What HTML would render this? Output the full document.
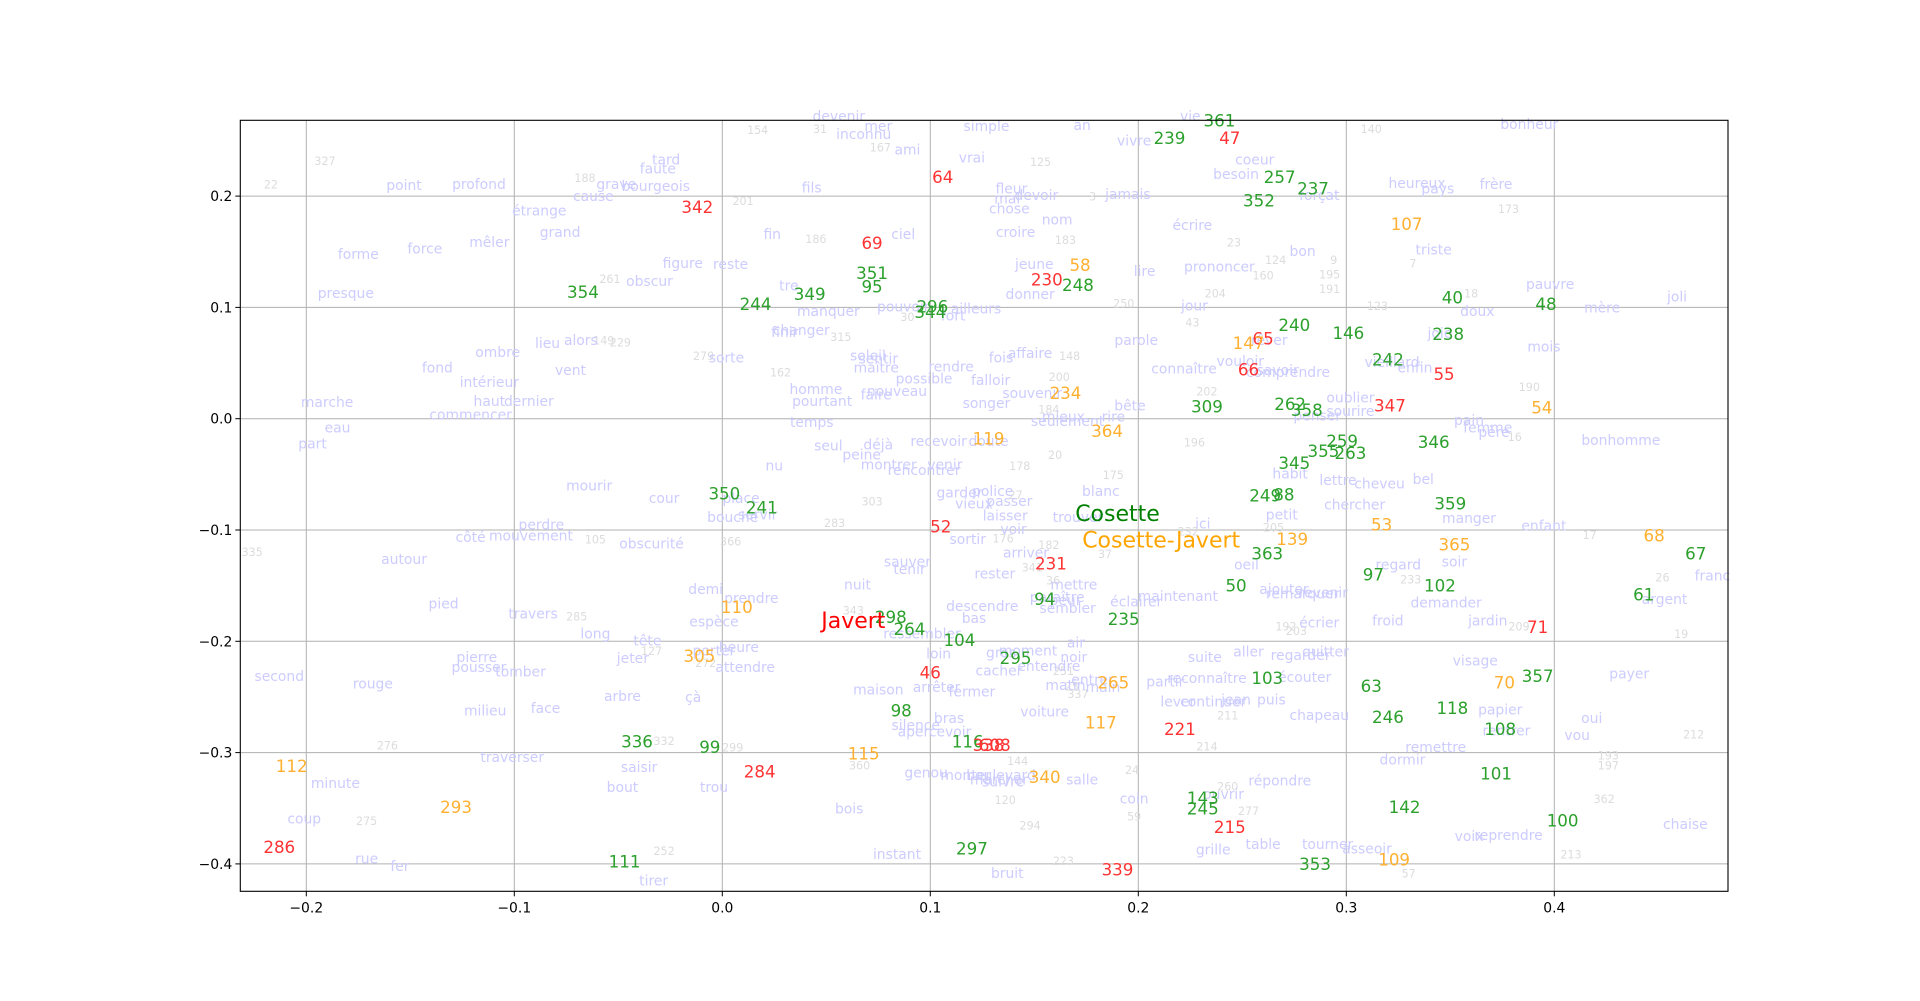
<!DOCTYPE html>
<html><head><meta charset="utf-8"><title>Correspondence analysis</title>
<style>
html,body{margin:0;padding:0;background:#fff;}
svg{display:block;font-family:"DejaVu Sans","Liberation Sans",sans-serif;}
</style></head>
<body>
<svg id="chart" width="1920" height="1001" viewBox="0 0 1920 1001" xmlns="http://www.w3.org/2000/svg">
<g id="grid"></g>
<g id="labels"></g>
<rect x="240.3" y="120.3" width="1487.7" height="771" fill="none" stroke="#000" stroke-width="1.1"/>
<g id="axes"></g>
</svg>
<script>
const xTicks = [-0.2,-0.1,0.0,0.1,0.2,0.3,0.4];
const yTicks = [-0.4,-0.3,-0.2,-0.1,0.0,0.1,0.2];
const words = [
["point",-0.153,0.209],["profond",-0.117,0.210],["forme",-0.175,0.147],["force",-0.143,0.152],["mêler",-0.112,0.158],["presque",-0.181,0.112],["étrange",-0.088,0.186],["grand",-0.078,0.167],["grave",-0.051,0.210],["cause",-0.062,0.199],["bourgeois",-0.032,0.208],["faute",-0.031,0.224],["tard",-0.027,0.232],["figure",-0.019,0.139],["obscur",-0.035,0.123],["reste",0.004,0.138],["fin",0.024,0.165],["fils",0.043,0.207],["devenir",0.056,0.271],["mer",0.075,0.262],["inconnu",0.068,0.255],["ami",0.089,0.241],["ciel",0.087,0.165],["simple",0.127,0.262],["vrai",0.120,0.234],["an",0.173,0.263],["fleur",0.139,0.206],["devoir",0.151,0.200],["mal",0.137,0.197],["chose",0.138,0.188],["nom",0.161,0.178],["croire",0.141,0.167],["jeune",0.150,0.138],["donner",0.148,0.111],["vie",0.225,0.271],["vivre",0.198,0.249],["coeur",0.256,0.232],["besoin",0.247,0.219],["jamais",0.195,0.201],["forçat",0.287,0.200],["écrire",0.226,0.173],["heureux",0.334,0.211],["pays",0.344,0.206],["frère",0.372,0.210],["bonheur",0.388,0.264],["bon",0.279,0.150],["prononcer",0.239,0.136],["lire",0.203,0.132],["triste",0.342,0.151],["jour",0.227,0.101],["pauvre",0.398,0.120],["joli",0.459,0.109],["mère",0.423,0.099],["doux",0.363,0.096],["joie",0.345,0.076],["mois",0.395,0.064],["parole",0.199,0.070],["rêver",0.263,0.070],["vouloir",0.249,0.051],["savoir",0.267,0.043],["comprendre",0.272,0.041],["connaître",0.222,0.044],["vieillard",0.322,0.050],["enfin",0.333,0.045],["oublier",0.302,0.018],["sourire",0.302,0.006],["penser",0.286,0.002],["bête",0.196,0.011],["rire",0.188,0.001],["seulement",0.166,-0.003],["mieux",0.164,0.001],["pain",0.359,-0.002],["femme",0.368,-0.009],["père",0.371,-0.013],["bonhomme",0.432,-0.020],["habit",0.273,-0.050],["lettre",0.296,-0.056],["cheveu",0.316,-0.059],["bel",0.337,-0.055],["chercher",0.304,-0.078],["petit",0.269,-0.087],["manger",0.359,-0.090],["enfant",0.395,-0.097],["ici",0.231,-0.095],["franc",0.476,-0.142],["argent",0.453,-0.163],["payer",0.436,-0.230],["oui",0.418,-0.270],["vou",0.411,-0.285],["chaise",0.463,-0.365],["jardin",0.368,-0.182],["demander",0.348,-0.166],["soir",0.352,-0.129],["regard",0.325,-0.132],["oeil",0.252,-0.132],["ajouter",0.270,-0.154],["remarquer",0.279,-0.158],["revenir",0.289,-0.157],["maintenant",0.219,-0.160],["éclairer",0.199,-0.165],["écrier",0.287,-0.184],["froid",0.320,-0.182],["visage",0.362,-0.218],["papier",0.374,-0.262],["rentrer",0.377,-0.281],["remettre",0.343,-0.296],["dormir",0.327,-0.307],["reprendre",0.378,-0.375],["voix",0.359,-0.376],["suite",0.232,-0.215],["aller",0.253,-0.210],["regarder",0.278,-0.213],["quitter",0.290,-0.210],["écouter",0.280,-0.233],["reconnaître",0.233,-0.234],["partir",0.213,-0.237],["lever",0.219,-0.255],["continuer",0.236,-0.255],["jean",0.247,-0.253],["puis",0.264,-0.253],["chapeau",0.287,-0.267],["répondre",0.268,-0.326],["ouvrir",0.241,-0.338],["grille",0.236,-0.388],["table",0.260,-0.383],["tourner",0.291,-0.383],["asseoir",0.310,-0.387],["coin",0.198,-0.342],["salle",0.173,-0.325],
["marche",-0.190,0.014],["eau",-0.185,-0.009],["part",-0.197,-0.023],["ombre",-0.108,0.059],["fond",-0.137,0.045],["lieu",-0.084,0.067],["alors",-0.068,0.070],["vent",-0.073,0.043],["intérieur",-0.112,0.032],["haut",-0.112,0.015],["dernier",-0.093,0.015],["commencer",-0.121,0.003],["mourir",-0.064,-0.061],["cour",-0.028,-0.072],["perdre",-0.087,-0.096],["côté",-0.121,-0.107],["mouvement",-0.092,-0.106],["obscurité",-0.034,-0.113],["autour",-0.153,-0.127],["pied",-0.134,-0.167],["travers",-0.091,-0.176],["long",-0.061,-0.194],["tête",-0.036,-0.200],["jeter",-0.043,-0.216],["pierre",-0.118,-0.215],["pousser",-0.117,-0.224],["tomber",-0.097,-0.228],["second",-0.213,-0.232],["rouge",-0.168,-0.239],["arbre",-0.048,-0.250],["çà",-0.014,-0.251],["milieu",-0.114,-0.263],["face",-0.085,-0.261],["traverser",-0.101,-0.305],["saisir",-0.040,-0.314],["bout",-0.048,-0.332],["trou",-0.004,-0.332],["minute",-0.186,-0.328],["coup",-0.201,-0.360],["rue",-0.171,-0.396],["fer",-0.155,-0.403],["tirer",-0.033,-0.416],
["tre",0.032,0.119],["manquer",0.051,0.096],["pouvoir",0.087,0.100],["ailleurs",0.122,0.098],["fort",0.111,0.092],["changer",0.038,0.079],["finir",0.030,0.077],["soleil",0.070,0.056],["sentir",0.075,0.053],["maître",0.074,0.045],["sorte",0.002,0.054],["rendre",0.110,0.046],["possible",0.097,0.035],["fois",0.134,0.054],["affaire",0.148,0.058],["falloir",0.129,0.034],["homme",0.045,0.026],["pourtant",0.048,0.015],["nouveau",0.084,0.024],["faire",0.074,0.021],["songer",0.127,0.013],["souvenir",0.149,0.022],["temps",0.043,-0.004],["seul",0.051,-0.025],["peine",0.067,-0.033],["déjà",0.075,-0.024],["montrer",0.080,-0.042],["rencontrer",0.097,-0.047],["recevoir",0.104,-0.021],["venir",0.107,-0.042],["doute",0.128,-0.021],["nu",0.025,-0.043],["place",0.009,-0.072],["bouche",0.005,-0.089],["servir",0.017,-0.087],["garder",0.114,-0.067],["police",0.130,-0.066],["vieux",0.121,-0.077],["passer",0.138,-0.075],["laisser",0.136,-0.088],["voir",0.140,-0.100],["trouver",0.171,-0.089],["blanc",0.182,-0.066],["sortir",0.118,-0.109],["arriver",0.146,-0.121],["sauver",0.089,-0.129],["tenir",0.090,-0.136],["nuit",0.065,-0.150],["rester",0.131,-0.140],["mettre",0.169,-0.150],["paraître",0.161,-0.161],["peur",0.165,-0.164],["sembler",0.166,-0.171],["descendre",0.125,-0.169],["bas",0.121,-0.180],["demi",-0.008,-0.154],["prendre",0.014,-0.162],["espèce",-0.004,-0.183],["ressembler",0.096,-0.194],["porter",-0.004,-0.209],["heure",0.008,-0.206],["attendre",0.011,-0.224],["loin",0.104,-0.212],["gros",0.134,-0.211],["moment",0.147,-0.209],["air",0.170,-0.202],["noir",0.169,-0.215],["entendre",0.157,-0.223],["cacher",0.133,-0.227],["entrer",0.178,-0.235],["matin",0.165,-0.240],["main",0.183,-0.242],["maison",0.075,-0.244],["arrêter",0.103,-0.242],["fermer",0.120,-0.246],["voiture",0.155,-0.264],["bras",0.109,-0.270],["silence",0.093,-0.276],["apercevoir",0.102,-0.282],["genou",0.098,-0.319],["monter",0.117,-0.321],["boulevard",0.134,-0.321],["marcher",0.133,-0.325],["suivre",0.135,-0.327],["bois",0.061,-0.351],["instant",0.084,-0.392],["bruit",0.137,-0.409]
];
const greenIds = [
["354",-0.067,0.114],["244",0.016,0.103],["349",0.042,0.112],["351",0.072,0.131],["95",0.072,0.119],["296",0.101,0.101],["344",0.100,0.096],["248",0.171,0.120],["239",0.215,0.252],["361",0.239,0.268],["257",0.268,0.217],["237",0.284,0.207],["352",0.258,0.196],["240",0.275,0.084],["146",0.301,0.077],["242",0.320,0.053],["238",0.349,0.076],["40",0.351,0.109],["48",0.396,0.103],["309",0.233,0.011],["262",0.273,0.013],["358",0.281,0.008],["259",0.298,-0.020],["355",0.289,-0.029],["263",0.302,-0.031],["345",0.275,-0.040],["346",0.342,-0.021],["249",0.261,-0.069],["88",0.270,-0.068],["359",0.350,-0.076],["363",0.262,-0.121],["50",0.247,-0.150],["97",0.313,-0.140],["102",0.345,-0.150],["61",0.443,-0.158],["67",0.468,-0.121],["350",0.001,-0.067],["241",0.019,-0.080],["298",0.081,-0.178],["264",0.090,-0.189],["104",0.114,-0.199],["295",0.141,-0.215],["94",0.155,-0.162],["235",0.193,-0.180],["103",0.262,-0.233],["63",0.312,-0.240],["246",0.320,-0.268],["118",0.351,-0.260],["357",0.392,-0.231],["108",0.374,-0.279],["101",0.372,-0.319],["100",0.404,-0.361],["142",0.328,-0.349],["143",0.231,-0.341],["245",0.231,-0.350],["353",0.285,-0.400],["297",0.120,-0.386],["116",0.118,-0.290],["98",0.086,-0.262],["99",-0.006,-0.295],["336",-0.041,-0.290],["111",-0.047,-0.398]
];
const redIds = [
["342",-0.012,0.190],["64",0.106,0.217],["69",0.072,0.158],["230",0.156,0.125],["47",0.244,0.252],["65",0.260,0.072],["66",0.253,0.044],["55",0.347,0.040],["347",0.321,0.012],["52",0.105,-0.097],["231",0.158,-0.130],["46",0.100,-0.228],["338",0.128,-0.293],["608",0.131,-0.293],["284",0.018,-0.317],["221",0.220,-0.279],["215",0.244,-0.367],["339",0.190,-0.405],["71",0.392,-0.187],["286",-0.213,-0.385]
];
const orangeIds = [
["107",0.329,0.175],["58",0.172,0.138],["234",0.165,0.023],["364",0.185,-0.011],["119",0.128,-0.018],["147",0.253,0.068],["139",0.274,-0.108],["53",0.317,-0.095],["365",0.352,-0.113],["68",0.448,-0.105],["54",0.394,0.010],["110",0.007,-0.169],["305",-0.011,-0.213],["115",0.068,-0.301],["265",0.188,-0.237],["117",0.182,-0.273],["340",0.155,-0.322],["109",0.323,-0.396],["70",0.376,-0.237],["112",-0.207,-0.312],["293",-0.128,-0.349]
];
const grayIds = [
["22",-0.217,0.210],["327",-0.191,0.231],["188",-0.066,0.216],["154",0.017,0.259],["31",0.047,0.260],["167",0.076,0.243],["125",0.153,0.230],["201",0.010,0.195],["186",0.045,0.161],["183",0.165,0.160],["261",-0.054,0.125],["149",-0.057,0.070],["229",-0.049,0.068],["279",-0.009,0.056],["315",0.057,0.073],["162",0.028,0.041],["30",0.089,0.091],["148",0.167,0.056],["200",0.162,0.037],["184",0.157,0.008],["140",0.312,0.260],["23",0.246,0.158],["124",0.266,0.142],["9",0.294,0.142],["195",0.292,0.129],["191",0.292,0.116],["160",0.260,0.128],["204",0.237,0.112],["250",0.193,0.103],["7",0.332,0.139],["173",0.378,0.188],["18",0.360,0.112],["43",0.226,0.086],["123",0.315,0.101],["190",0.388,0.028],["202",0.233,0.024],["196",0.227,-0.022],["16",0.381,-0.017],["175",0.188,-0.051],["20",0.160,-0.033],["178",0.143,-0.043],["27",0.141,-0.069],["303",0.072,-0.075],["283",0.054,-0.094],["366",0.004,-0.111],["105",-0.061,-0.109],["335",-0.226,-0.120],["182",0.157,-0.114],["176",0.135,-0.108],["37",0.184,-0.122],["341",0.149,-0.134],["36",0.159,-0.146],["232",0.224,-0.102],["205",0.265,-0.098],["17",0.417,-0.105],["26",0.452,-0.143],["19",0.461,-0.194],["209",0.383,-0.187],["233",0.331,-0.145],["192",0.271,-0.187],["203",0.276,-0.191],["343",0.063,-0.173],["285",-0.070,-0.178],["127",-0.034,-0.209],["272",-0.008,-0.220],["332",-0.028,-0.290],["299",0.005,-0.296],["360",0.066,-0.312],["144",0.142,-0.308],["120",0.136,-0.343],["294",0.148,-0.366],["223",0.164,-0.398],["276",-0.161,-0.294],["275",-0.171,-0.362],["252",-0.028,-0.389],["24",0.197,-0.316],["59",0.198,-0.358],["260",0.243,-0.331],["277",0.253,-0.353],["211",0.243,-0.267],["214",0.233,-0.295],["57",0.330,-0.409],["213",0.408,-0.392],["362",0.424,-0.342],["193",0.426,-0.303],["197",0.426,-0.312],["212",0.467,-0.284],["251",0.164,-0.227],["25",0.168,-0.241],["337",0.171,-0.248],["3",0.178,0.199]
];
const mainLabels = [["Cosette",0.190,-0.086],["Cosette-Javert",0.211,-0.110],["Javert",0.063,-0.182]];
const mainColors = ["#008000","#ffa500","#ff0000"];

const NS = "http://www.w3.org/2000/svg";
const X0 = 722.3, XS = 2080, Y0 = 418.7, YS = 1113;
const L = 240.3, R = 1728, T = 120.3, B = 891.3;
function sx(v){ return X0 + v * XS; }
function sy(v){ return Y0 - v * YS; }

const grid = document.getElementById('grid');
const axes = document.getElementById('axes');
const labels = document.getElementById('labels');

xTicks.forEach(function(t){
  const l = document.createElementNS(NS,'line');
  
  
  l.setAttribute('x1',sx(t)); l.setAttribute('x2',sx(t));
  l.setAttribute('y1',T); l.setAttribute('y2',B);
  l.setAttribute('stroke','#b0b0b0'); l.setAttribute('stroke-width','1');
  grid.appendChild(l);
  const tk = document.createElementNS(NS,'line');
  
  
  tk.setAttribute('x1',sx(t)); tk.setAttribute('x2',sx(t));
  tk.setAttribute('y1',B); tk.setAttribute('y2',B+5);
  tk.setAttribute('stroke','#000'); tk.setAttribute('stroke-width','1');
  axes.appendChild(tk);
  const tx = document.createElementNS(NS,'text');
  
  
  tx.setAttribute('x',sx(t)); tx.setAttribute('y',B+21);
  tx.setAttribute('text-anchor','middle'); tx.setAttribute('font-size','13.9');
  tx.textContent = (t<0?'\u2212':'') + Math.abs(t).toFixed(1);
  axes.appendChild(tx);
});
yTicks.forEach(function(t){
  const l = document.createElementNS(NS,'line');
  
  
  l.setAttribute('x1',L); l.setAttribute('x2',R);
  l.setAttribute('y1',sy(t)); l.setAttribute('y2',sy(t));
  l.setAttribute('stroke','#b0b0b0'); l.setAttribute('stroke-width','1');
  grid.appendChild(l);
  const tk = document.createElementNS(NS,'line');
  
  
  tk.setAttribute('x1',L-5); tk.setAttribute('x2',L);
  tk.setAttribute('y1',sy(t)); tk.setAttribute('y2',sy(t));
  tk.setAttribute('stroke','#000'); tk.setAttribute('stroke-width','1');
  axes.appendChild(tk);
  const tx = document.createElementNS(NS,'text');
  
  
  tx.setAttribute('x',L-8); tx.setAttribute('y',sy(t)+5);
  tx.setAttribute('text-anchor','end'); tx.setAttribute('font-size','13.9');
  tx.textContent = (t<0?'\u2212':'') + Math.abs(t).toFixed(1);
  axes.appendChild(tx);
});

function drawGroup(arr, color, size, name){
  arr.forEach(function(d){
    const t = document.createElementNS(NS,'text');
    
    
    t.setAttribute('x', sx(d[1]));
    t.setAttribute('y', sy(d[2]));
    t.setAttribute('text-anchor','middle');
    t.setAttribute('dominant-baseline','central');
    t.setAttribute('font-size', size);
    t.setAttribute('fill', color);
    t.textContent = d[0];
    labels.appendChild(t);
  });
}
drawGroup(grayIds, '#dcdcdc', 11.1, 'minor-chapter-label');
drawGroup(words, '#ccccff', 13.9, 'word-label');
drawGroup(greenIds, '#2ca02c', 16.7, 'cosette-chapter-label');
drawGroup(redIds, '#ff3333', 16.7, 'javert-chapter-label');
drawGroup(orangeIds, '#ffb030', 16.7, 'shared-chapter-label');
mainLabels.forEach(function(d, i){
  const t = document.createElementNS(NS,'text');
  
  
  t.setAttribute('x', sx(d[1]));
  t.setAttribute('y', sy(d[2]));
  t.setAttribute('text-anchor','middle');
  t.setAttribute('dominant-baseline','central');
  t.setAttribute('font-size', 22);
  t.setAttribute('fill', mainColors[i]);
  t.textContent = d[0];
  labels.appendChild(t);
});
</script>
</body></html>
